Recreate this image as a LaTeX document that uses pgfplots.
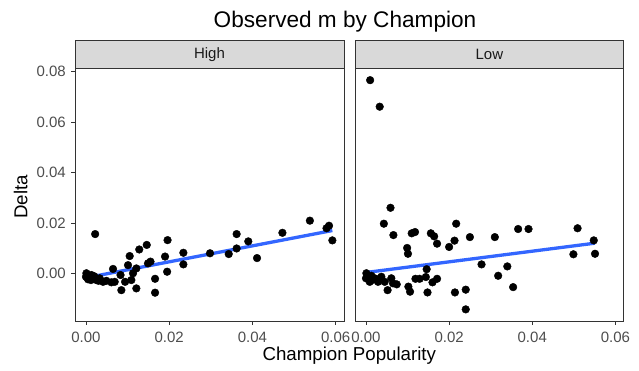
\documentclass[border=0pt]{standalone}
\usepackage{pgfplots}
\pgfplotsset{compat=1.18}
\usepackage{fontspec}
\setmainfont{Liberation Sans}
\definecolor{grey30}{HTML}{4D4D4D}
\definecolor{grey20}{HTML}{333333}
\definecolor{grey85}{HTML}{D9D9D9}
\definecolor{grey10}{HTML}{1A1A1A}
\definecolor{smooth}{HTML}{3366FF}
\pgfplotsset{
  panel/.style={
    scale only axis,
    height=252.7pt,
    xmin=-0.00264, xmax=0.062,
    ymin=-0.0187, ymax=0.0813,
    xtick={0,0.02,0.04,0.06},
    scaled ticks=false,
    tick pos=left,
    tick align=outside,
    major tick length=3.6pt,
    tick style={draw=grey20, line width=0.6pt},
    axis line style={draw=grey20, line width=0.6pt},
    /pgf/number format/.cd, fixed, fixed zerofill, precision=2, assume math mode=true,
    /pgfplots/.cd,
    ticklabel style={font=\fontsize{15}{18}\selectfont, text=grey30, inner sep=0pt},
    xticklabel style={anchor=north, yshift=-7pt},
    yticklabel style={anchor=east, xshift=-5.5pt},
    clip=false,
  },
  pts/.style={only marks, mark=*, mark size=3.85pt, black},
  fit/.style={no marks, smooth, draw=smooth, line width=3.3pt},
}
\newcommand{\strip}[1]{%
  \draw[fill=grey85, draw=grey20, line width=0.6pt] (rel axis cs:0,1) rectangle ([yshift=28.3pt]rel axis cs:1,1);
  \node[font=\fontsize{15}{18}\selectfont, text=grey10] at ([yshift=14.15pt]rel axis cs:0.5,1) {#1};
}
\begin{document}
\begin{tikzpicture}
\useasboundingbox (0,0) rectangle (639pt,371pt);
\begin{axis}[panel, at={(75pt,50pt)}, anchor=south west, width=269pt,
  ytick={0,0.02,0.04,0.06,0.08}]
\addplot[pts] table {
x y
0.0000 -0.0012
0.0001 0.0002
0.0005 -0.0022
0.0003 -0.0015
0.0008 -0.0008
0.0012 -0.0025
0.0013 -0.0005
0.0017 -0.0018
0.0020 -0.0010
0.0022 0.0157
0.0025 -0.0025
0.0030 -0.0028
0.0033 -0.0018
0.0041 -0.0032
0.0049 -0.0028
0.0061 -0.0034
0.0069 -0.0032
0.0065 0.0019
0.0083 -0.0005
0.0085 -0.0065
0.0094 -0.0032
0.0101 0.0034
0.0105 0.0070
0.0109 -0.0025
0.0113 0.0002
0.0121 0.0021
0.0121 -0.0058
0.0128 0.0096
0.0146 0.0114
0.0149 0.0041
0.0155 0.0048
0.0166 -0.0020
0.0166 -0.0075
0.0190 0.0068
0.0196 0.0133
0.0195 0.0008
0.0234 0.0037
0.0234 0.0083
0.0298 0.0081
0.0343 0.0078
0.0362 0.0157
0.0362 0.0100
0.0390 0.0128
0.0411 0.0062
0.0472 0.0162
0.0538 0.0210
0.0578 0.0180
0.0584 0.0190
0.0592 0.0132
};
\addplot[fit] coordinates {(0.0000,-0.0016) (0.0592,0.0171)};
\strip{High}
\end{axis}
\begin{axis}[panel, at={(355pt,50pt)}, anchor=south west, width=268.7pt,
  ytick=\empty]
\addplot[pts] table {
x y
0.0010 0.0766
0.0033 0.0661
0.0059 0.0261
0.0043 0.0198
0.0066 0.0153
0.0099 0.0102
0.0101 0.0079
0.0110 0.0160
0.0118 0.0165
0.0156 0.0160
0.0164 0.0148
0.0171 0.0119
0.0200 0.0106
0.0213 0.0131
0.0217 0.0198
0.0250 0.0145
0.0310 0.0145
0.0366 0.0177
0.0391 0.0177
0.0509 0.0180
0.0548 0.0132
0.0499 0.0077
0.0551 0.0079
0.0278 0.0037
0.0340 0.0029
0.0318 -0.0008
0.0354 -0.0053
0.0240 -0.0063
0.0240 -0.0141
0.0214 -0.0074
0.0148 -0.0074
0.0146 0.0018
0.0144 -0.0013
0.0171 -0.0020
0.0160 -0.0034
0.0129 -0.0020
0.0119 -0.0020
0.0102 -0.0051
0.0106 -0.0071
0.0052 -0.0065
0.0074 -0.0042
0.0001 0.0002
0.0000 -0.0018
0.0009 -0.0032
0.0021 -0.0018
0.0029 -0.0032
0.0037 -0.0012
0.0045 -0.0032
0.0061 -0.0018
0.0065 -0.0038
0.0005 -0.0010
0.0015 -0.0025
0.0025 -0.0022
0.0013 -0.0008
};
\addplot[fit] coordinates {(0.0000,0.0005) (0.0551,0.0121)};
\strip{Low}
\end{axis}
\node[anchor=base, font=\fontsize{22.6}{27}\selectfont] at (345pt,343.7pt) {Observed m by Champion};
\node[anchor=base, font=\fontsize{18.7}{22}\selectfont] at (349.3pt,10pt) {Champion Popularity};
\node[rotate=90, font=\fontsize{18.7}{22}\selectfont] at (20.8pt,174.3pt) {Delta};
\end{tikzpicture}
\end{document}
